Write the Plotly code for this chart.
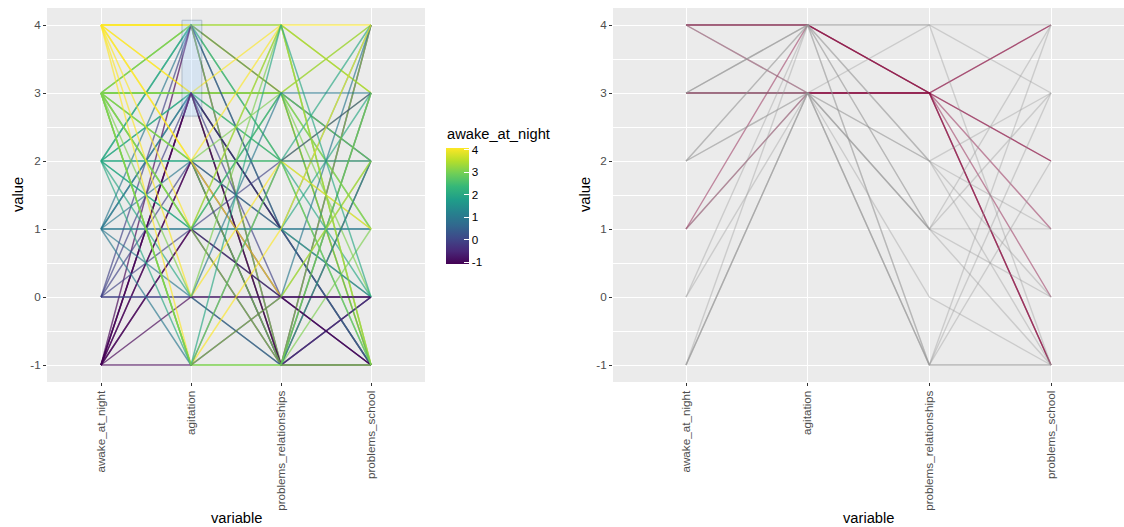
import plotly.graph_objects as go
from plotly.colors import sample_colorscale

variables = ["awake_at_night", "agitation", "problems_relationships", "problems_school"]

# one entry per respondent
awake_at_night = [4, 4, 4, 1, 3, 1, 4, 3, 3,
                  4, 3, 3, 2, 2, 0, -1, 3, 4, 3, 3, 2, 2, 1, 0, -1, -1, -1,
                  4, 3, 2, 2, 1, -1, -1, 0, 3, 3, 4,
                  4, 3, 2, 1, 1, 0, -1, -1, 2, 3, 3,
                  4, 2, 1, 0, 0, -1, 3,
                  4, 3, 1, 3, -1, 3, 2, 3]
agitation = [4, 4, 4, 4, 3, 3, 3, 3, 3,
             4, 4, 4, 4, 4, 4, 4, 4, 3, 3, 3, 3, 3, 3, 3, 3, 3, 3,
             2, 2, 2, 2, 2, 2, 2, 2, 2, 2, 2,
             1, 1, 1, 1, 1, 1, 1, 1, 1, 1, 1,
             0, 0, 0, 0, 0, 0, 0,
             -1, -1, -1, -1, -1, -1, -1, -1]
problems_relationships = [3, 3, 3, 3, 3, 3, 3, 3, 3,
                          4, 4, 2, 2, 1, 1, -1, -1, 4, 2, -1, 2, 1, 1, 0, -1, -1, 1,
                          4, 2, 2, 1, -1, -1, 0, 1, 3, -1, 0,
                          4, 3, 1, 1, 0, 2, -1, 0, 3, -1, 4,
                          2, -1, 3, 0, -1, 0, 4,
                          1, -1, 2, -1, 0, 0, 4, 2]
problems_school = [-1, -1, 4, 2, 4, 2, -1, 1, 0,
                   3, -1, 3, -1, 4, 0, 4, -1, 4, 1, 3, 0, 3, 1, -1, -1, 2, -1,
                   3, 2, 4, -1, 3, 0, -1, -1, 1, 4, 2,
                   -1, 2, 0, 1, 4, 3, 0, 0, -1, 1, 3,
                   1, 2, 3, 0, 0, -1, -1,
                   4, -1, 2, 3, 0, 2, 0, -1]

y_ticks = [-1, 0, 1, 2, 3, 4]
y_ticktext = ["-1", "0", "1", "2", "3", "4"]
brush_agitation = [2.66, 4.07]      # brushed interval on the agitation axis
highlight_relationships = 3         # rows highlighted in the linked view

rows = list(zip(awake_at_night, agitation, problems_relationships, problems_school))
xs = [1, 2, 3, 4]
W, H = 1124, 527

fig = go.Figure()

# ---- left panel: all rows coloured by awake_at_night (viridis)
for r in rows:
    col = sample_colorscale("Viridis", [(r[0] + 1) / 5])[0]
    fig.add_trace(go.Scatter(x=xs, y=list(r), mode="lines", xaxis="x", yaxis="y",
                             line=dict(color=col, width=1.5), opacity=0.66,
                             showlegend=False, hoverinfo="skip"))

# colour bar carrier
fig.add_trace(go.Scatter(
    x=[1] * len(awake_at_night), y=awake_at_night, mode="markers", xaxis="x", yaxis="y",
    marker=dict(size=0.1, opacity=0, color=awake_at_night, colorscale="Viridis",
                cmin=-1.08, cmax=4.08, showscale=True,
                colorbar=dict(
                    thickness=23, thicknessmode="pixels", len=116, lenmode="pixels",
                    x=446 / W, xanchor="left", y=1 - 206 / H, yanchor="middle",
                    xpad=0, ypad=0, outlinewidth=0,
                    tickvals=y_ticks, ticktext=y_ticktext, ticks="inside", ticklen=5,
                    tickcolor="white", tickwidth=1,
                    tickfont=dict(size=11.7, color="black"))),
    showlegend=False, hoverinfo="skip"))

fig.add_annotation(text="awake_at_night", xref="paper", yref="paper", x=445 / W,
                   y=1 - 134 / H, showarrow=False, xanchor="left", yanchor="middle",
                   font=dict(size=14.7, color="black"))

# ---- right panel: brushed rows, highlighted subset in maroon (drawn underneath)
sel = [r for r in rows if brush_agitation[0] <= r[1] <= brush_agitation[1]]
grey = [r for r in sel if r[2] != highlight_relationships]
hot = [r for r in sel if r[2] == highlight_relationships]
for r in hot:
    fig.add_trace(go.Scatter(x=xs, y=list(r), mode="lines", xaxis="x2", yaxis="y2",
                             line=dict(color="#8b0f42", width=1.4), opacity=0.45,
                             showlegend=False, hoverinfo="skip"))
for r in grey:
    fig.add_trace(go.Scatter(x=xs, y=list(r), mode="lines", xaxis="x2", yaxis="y2",
                             line=dict(color="#959595", width=1.4), opacity=0.36,
                             showlegend=False, hoverinfo="skip"))

tickfont = dict(size=11.7, color="#4d4d4d")
common_x = dict(range=[0.4, 4.6], tickvals=xs, ticktext=variables, tickangle=-90,
                showgrid=True, gridcolor="white", gridwidth=1.1, zeroline=False,
                ticks="outside", ticklen=3, tickcolor="#333333", tickwidth=1,
                tickfont=tickfont, showline=False, automargin=False)
common_y = dict(range=[-1.25, 4.25], tickvals=y_ticks, ticktext=y_ticktext,
                showgrid=True, gridcolor="white",
                gridwidth=1.1, zeroline=False, ticks="outside", ticklen=3,
                tickcolor="#333333", tickwidth=1, tickfont=tickfont, showline=False,
                automargin=False,
                minor=dict(tickvals=[-0.5, 0.5, 1.5, 2.5, 3.5], showgrid=True,
                           gridcolor="white", gridwidth=0.55, ticks=""))
ydom = [1 - 382 / H, 1 - 8 / H]
fig.update_layout(
    width=W, height=H, margin=dict(l=0, r=0, t=0, b=0),
    paper_bgcolor="white", plot_bgcolor="#ebebeb",
    font=dict(family="Liberation Sans, Arial, sans-serif"),
    xaxis=dict(common_x, domain=[47 / W, 425 / W], anchor="y"),
    yaxis=dict(common_y, domain=ydom, anchor="x"),
    xaxis2=dict(common_x, domain=[613 / W, 1.0], anchor="y2"),
    yaxis2=dict(common_y, domain=ydom, anchor="x2"),
)

# brush rectangle
fig.add_shape(type="rect", xref="x", yref="y", x0=1.9, x1=2.12,
              y0=brush_agitation[0], y1=brush_agitation[1],
              fillcolor="#99ccff", line=dict(color="#003366", width=1), opacity=0.25)

# axis titles
for xc, yc in [((47 + 425) / 2, 18), ((613 + 1124) / 2, 585)]:
    fig.add_annotation(text="variable", xref="paper", yref="paper", x=xc / W, y=1 - 518 / H,
                       showarrow=False, font=dict(size=14.7, color="black"),
                       xanchor="center", yanchor="middle")
    fig.add_annotation(text="value", xref="paper", yref="paper", x=yc / W,
                       y=1 - 195 / H, textangle=-90, showarrow=False,
                       font=dict(size=14.7, color="black"), xanchor="center",
                       yanchor="middle")

fig.write_html("out.html")
